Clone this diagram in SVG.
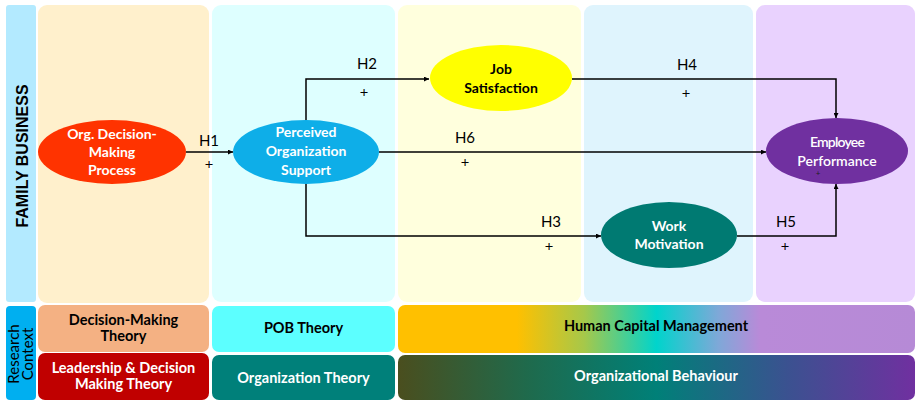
<svg xmlns="http://www.w3.org/2000/svg" width="917" height="406" viewBox="0 0 917 406">
  <defs>
    <linearGradient id="hcm" x1="398" y1="0" x2="915" y2="0" gradientUnits="userSpaceOnUse">
      <stop offset="0" stop-color="#ffc000"/>
      <stop offset="0.23" stop-color="#ffc000"/>
      <stop offset="0.36" stop-color="#a6c84a"/>
      <stop offset="0.5" stop-color="#00d4cc"/>
      <stop offset="0.62" stop-color="#7fa8d8"/>
      <stop offset="0.7" stop-color="#b98ad8"/>
      <stop offset="1" stop-color="#b68ad6"/>
    </linearGradient>
    <linearGradient id="ob" x1="398" y1="0" x2="915" y2="0" gradientUnits="userSpaceOnUse">
      <stop offset="0" stop-color="#4a4e1e"/>
      <stop offset="0.25" stop-color="#1f6a4c"/>
      <stop offset="0.5" stop-color="#008078"/>
      <stop offset="0.75" stop-color="#3a5290"/>
      <stop offset="1" stop-color="#7030a0"/>
    </linearGradient>
    <marker id="arrow" viewBox="0 0 10 10" refX="10" refY="5" markerWidth="5" markerHeight="5" orient="auto" markerUnits="userSpaceOnUse">
      <path d="M0,0 L10,5 L0,10 z" fill="#000"/>
    </marker>
  </defs>
  <style>
    .node text { font-family: Lato, "Open Sans", "Liberation Sans", sans-serif; font-weight: bold; font-size: 14px; text-anchor: middle; }
    .light { fill: #ffffff; }
    .dark { fill: #000000; }
    .hyp { font-family: Lato, "Open Sans", "Liberation Sans", sans-serif; font-size: 15px; fill: #000; text-anchor: middle; }
    .sign { font-family: "Open Sans", "Liberation Sans", sans-serif; font-size: 15px; fill: #000; text-anchor: middle; }
    .conn { fill: none; stroke: #000; stroke-width: 1.5; }
    .band text { font-family: Lato, "Open Sans", "Liberation Sans", sans-serif; font-weight: bold; font-size: 14.5px; text-anchor: middle; }
    .side { font-family: "Liberation Sans", "Open Sans", sans-serif; font-weight: bold; font-size: 16px; fill: #000; text-anchor: middle; }
    .ctx { font-family: Lato, "Open Sans", sans-serif; font-size: 15px; fill: #000; text-anchor: middle; }
  </style>

  <rect width="917" height="406" fill="#ffffff"/>

  <!-- side labels -->
  <g id="family-business">
    <rect x="6" y="5" width="30" height="297" rx="3" fill="#b3eaff"/>
    <text class="side" transform="translate(28,156) rotate(-90)">FAMILY BUSINESS</text>
  </g>
  <g id="research-context">
    <rect x="6" y="306" width="30" height="94" rx="4" fill="#00aff0"/>
    <text class="ctx" transform="translate(19,354) rotate(-90)">Research</text>
    <text class="ctx" transform="translate(33,354) rotate(-90)">Context</text>
  </g>

  <!-- column backgrounds -->
  <g id="columns">
    <rect x="38" y="5" width="171" height="298" rx="9" fill="#fff0cc"/>
    <rect x="212" y="5" width="183" height="297" rx="9" fill="#deffff"/>
    <rect x="398" y="5" width="183" height="297" rx="9" fill="#ffffdd"/>
    <rect x="584" y="5" width="169" height="297" rx="9" fill="#dff4fd"/>
    <rect x="756" y="5" width="159" height="297" rx="9" fill="#e9d2fe"/>
  </g>

  <!-- theory bands -->
  <g id="theory-decision-making" class="band">
    <rect x="38" y="305" width="171" height="47" rx="7" fill="#f4b183"/>
    <text class="dark" x="123.5" y="325">Decision-Making</text>
    <text class="dark" x="123.5" y="341">Theory</text>
  </g>
  <g id="theory-leadership" class="band">
    <rect x="38" y="353" width="171" height="47" rx="7" fill="#c00000"/>
    <text class="light" x="123.5" y="373">Leadership &amp; Decision</text>
    <text class="light" x="123.5" y="389">Making Theory</text>
  </g>
  <g id="theory-pob" class="band">
    <rect x="212" y="306" width="183" height="46" rx="7" fill="#5cffff"/>
    <text class="dark" x="303.5" y="333">POB Theory</text>
  </g>
  <g id="theory-organization" class="band">
    <rect x="212" y="355" width="183" height="45" rx="7" fill="#00807a"/>
    <text class="light" x="303.5" y="383">Organization Theory</text>
  </g>
  <g id="human-capital-management" class="band">
    <rect x="398" y="305" width="517" height="48" rx="7" fill="url(#hcm)"/>
    <text class="dark" x="656" y="331">Human Capital Management</text>
  </g>
  <g id="organizational-behaviour" class="band">
    <rect x="398" y="355" width="517" height="45" rx="7" fill="url(#ob)"/>
    <text class="light" x="656" y="381">Organizational Behaviour</text>
  </g>

  <!-- connectors -->
  <g id="connectors">
    <path class="conn" d="M186,152 L233,152" marker-end="url(#arrow)"/>
    <path class="conn" d="M306,120 L306,79 L429,79" marker-end="url(#arrow)"/>
    <path class="conn" d="M379,152 L766,152" marker-end="url(#arrow)"/>
    <path class="conn" d="M306,184 L306,236 L601,236" marker-end="url(#arrow)"/>
    <path class="conn" d="M572,79 L836,79 L836,118" marker-end="url(#arrow)"/>
    <path class="conn" d="M737,236 L836,236 L836,184" marker-end="url(#arrow)"/>
    <text class="hyp" x="209" y="146">H1</text>
    <text class="sign" x="209" y="170">+</text>
    <text class="hyp" x="367" y="69">H2</text>
    <text class="sign" x="364" y="98">+</text>
    <text class="hyp" x="465" y="143">H6</text>
    <text class="sign" x="465" y="168">+</text>
    <text class="hyp" x="551" y="227">H3</text>
    <text class="sign" x="549" y="252">+</text>
    <text class="hyp" x="687" y="70">H4</text>
    <text class="sign" x="686" y="99">+</text>
    <text class="hyp" x="786" y="227">H5</text>
    <text class="sign" x="785" y="252">+</text>
  </g>

  <!-- nodes -->
  <g id="org-decision-making-process" class="node">
    <ellipse cx="112" cy="152" rx="74" ry="32" fill="#ff3300"/>
    <text class="light" x="112" y="139">Org. Decision-</text>
    <text class="light" x="112" y="157">Making</text>
    <text class="light" x="112" y="175">Process</text>
  </g>
  <g id="perceived-organization-support" class="node">
    <ellipse cx="306" cy="152" rx="73" ry="32" fill="#0eaee8"/>
    <text class="light" x="306" y="137">Perceived</text>
    <text class="light" x="306" y="156">Organization</text>
    <text class="light" x="306" y="175">Support</text>
  </g>
  <g id="job-satisfaction" class="node">
    <ellipse cx="501" cy="78" rx="71" ry="33" fill="#ffff00"/>
    <text class="dark" x="501" y="74">Job</text>
    <text class="dark" x="501" y="93">Satisfaction</text>
  </g>
  <g id="work-motivation" class="node">
    <ellipse cx="669" cy="235" rx="68" ry="33" fill="#007a72"/>
    <text class="light" x="669" y="231">Work</text>
    <text class="light" x="669" y="249">Motivation</text>
  </g>
  <g id="employee-performance" class="node">
    <ellipse cx="837" cy="151" rx="71" ry="33" fill="#7030a0"/>
    <text class="light" x="837" y="147" style="font-weight:600; letter-spacing:-0.8px">Employee</text>
    <text class="light" x="837" y="166" style="font-weight:600">Performance</text>
    <text x="818" y="176" fill="#222" style="font-weight:normal; font-size:8px">+</text>
  </g>
</svg>
